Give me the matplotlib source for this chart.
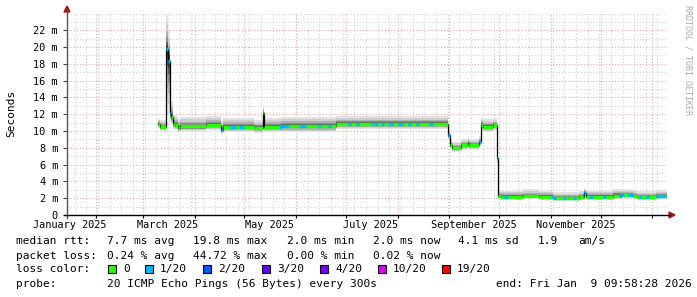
import matplotlib
matplotlib.use('Agg')
import matplotlib.pyplot as plt
import matplotlib.dates as mdates
from matplotlib.patches import Rectangle, Polygon
from matplotlib.lines import Line2D
from datetime import datetime, timedelta
import numpy as np

# ---------------- data ----------------
end_time = '2026-01-09 09:58:28'
span_days = 360

seg_start = ['2025-03-10', '2025-03-11', '2025-03-15', '2025-03-16', '2025-03-17',
             '2025-03-18', '2025-03-19', '2025-03-20', '2025-03-22', '2025-03-23',
             '2025-04-08', '2025-04-17', '2025-04-18', '2025-05-07', '2025-05-12',
             '2025-05-13', '2025-05-23', '2025-06-25', '2025-08-31 12:00', '2025-09-01 12:00',
             '2025-09-02 12:00', '2025-09-08', '2025-09-12', '2025-09-13', '2025-09-19',
             '2025-09-20', '2025-09-21', '2025-09-27', '2025-09-29 12:00', '2025-09-30 12:00',
             '2025-10-02', '2025-10-15', '2025-10-25', '2025-11-02', '2025-11-12',
             '2025-11-18', '2025-11-20', '2025-11-21', '2025-11-22', '2025-12-08',
             '2025-12-13', '2025-12-20', '2025-12-23', '2026-01-03']
seg_median = [10.85, 10.5, 19.8, 18.4, 12.1,
              11.7, 10.85, 10.7, 10.35, 10.55,
              10.75, 10.15, 10.5, 10.35, 12.1,
              10.45, 10.6, 10.85, 9.5, 8.35,
              8.0, 8.3, 8.6, 8.3, 8.7,
              10.75, 10.5, 10.7, 6.8, 2.27,
              2.2, 2.25, 2.2, 2.07, 2.0,
              2.1, 2.2, 2.66, 2.2, 2.3,
              2.39, 2.3, 2.1, 2.27]
seg_smoke_up = [0.6, 0.8, 4.1, 3.6, 3.3,
                1.9, 1.2, 1.1, 1.1, 1.1,
                1.0, 1.1, 1.1, 1.0, 0.9,
                1.1, 1.1, 0.9, 0.8, 0.7,
                0.7, 0.7, 0.6, 0.7, 0.7,
                0.8, 0.9, 0.8, 0.7, 0.6,
                0.7, 0.8, 0.7, 0.65, 0.7,
                0.7, 0.7, 0.5, 0.7, 0.8,
                0.7, 0.7, 0.7, 0.7]
seg_smoke_down = [0.5, 0.5, 7.8, 6.4, 1.0,
                  0.8, 0.6, 0.6, 0.5, 0.6,
                  0.6, 0.5, 0.6, 0.55, 1.7,
                  0.55, 0.7, 0.6, 0.6, 0.5,
                  0.5, 0.5, 0.5, 0.5, 0.5,
                  0.6, 0.6, 0.6, 0.6, 0.35,
                  0.35, 0.35, 0.35, 0.35, 0.3,
                  0.35, 0.35, 0.45, 0.35, 0.35,
                  0.35, 0.35, 0.3, 0.35]
seg_loss = [0, 0, 1, 1, 1,
            0, 0, 0, 0, 0,
            0, 1, 0, 0, 0,
            0, 0, 0, 1, 0,
            0, 0, 0, 0, 1,
            0, 0, 0, 1, 0,
            0, 0, 0, 0, 0,
            0, 0, 1, 0, 0,
            0, 0, 0, 0]
loss1_from = ['2025-04-22', '2025-04-28', '2025-05-22', '2025-06-03', '2025-06-14',
              '2025-06-20', '2025-07-02', '2025-07-07', '2025-07-16', '2025-07-18',
              '2025-07-22', '2025-07-26', '2025-08-01', '2025-08-07', '2025-08-12',
              '2025-08-20', '2025-10-04', '2025-11-01', '2025-11-08', '2025-11-14',
              '2025-11-24', '2025-12-02', '2025-12-12', '2025-12-17', '2025-12-24',
              '2025-12-28', '2026-01-03']
loss1_to = ['2025-04-26', '2025-05-01', '2025-05-28', '2025-06-07', '2025-06-16',
            '2025-06-22', '2025-07-04', '2025-07-09', '2025-07-17', '2025-07-20',
            '2025-07-24', '2025-07-29', '2025-08-04', '2025-08-09', '2025-08-14',
            '2025-08-22', '2025-10-06', '2025-11-04', '2025-11-10', '2025-11-16',
            '2025-11-26', '2025-12-04', '2025-12-15', '2025-12-20', '2025-12-26',
            '2025-12-30', '2026-01-09']

month_labels = ['January 2025', 'March 2025', 'May 2025', 'July 2025',
                'September 2025', 'November 2025']
month_label_at = ['2025-01-16', '2025-03-16', '2025-05-16', '2025-07-16',
                  '2025-09-16', '2025-11-16']
y_ticks = [0, 2, 4, 6, 8, 10, 12, 14, 16, 18, 20, 22]
y_tick_labels = ['0', '2 m', '4 m', '6 m', '8 m', '10 m', '12 m', '14 m',
                 '16 m', '18 m', '20 m', '22 m']
y_max = 24

rtt_title = 'median rtt:'
rtt_stats = ['7.7 ms avg', '19.8 ms max', '2.0 ms min', '2.0 ms now', '4.1 ms sd', '1.9', 'am/s']
loss_title = 'packet loss:'
loss_stats = ['0.24 % avg', '44.72 % max', '0.00 % min', '0.02 % now']
color_title = 'loss color:'
loss_labels = ['0', '1/20', '2/20', '3/20', '4/20', '10/20', '19/20']
loss_colors = ['#26ff00', '#00b8ff', '#0059ff', '#5e00ff', '#7e00ff', '#dd00ff', '#ff0000']
probe_title = 'probe:'
probe_text = '20 ICMP Echo Pings (56 Bytes) every 300s'
end_text = 'end: Fri Jan  9 09:58:28 2026'
y_title = 'Seconds'
watermark = 'RRDTOOL / TOBI OETIKER'

# ---------------- figure ----------------
W, H = 697, 297
plt.rcParams['font.family'] = ['DejaVu Sans Mono']
fig = plt.figure(figsize=(W / 100, H / 100), dpi=100)
fig.patch.set_facecolor('white')

def fx(x):
    return x / W

def fy(y):
    return 1 - y / H

L, R, T, B = 67, 666.5, 13.5, 215
ax = fig.add_axes([fx(L), fy(B), (R - L) / W, (B - T) / H])
ax.set_facecolor('white')
for s in ax.spines.values():
    s.set_visible(False)

t_end = datetime.fromisoformat(end_time)
t_start = t_end - timedelta(days=span_days)
x0, x1 = mdates.date2num(t_start), mdates.date2num(t_end)
ax.set_xlim(x0, x1)
ax.set_ylim(0, y_max)

# grid
minor_grid = dict(color='#cfcfcf', lw=0.8, ls=(0, (1, 1.8)), zorder=0)
major_grid = dict(color='#e8a8a8', lw=0.8, ls=(0, (1, 1.8)), zorder=0.5)
for v in range(1, y_max + 1):
    if v in y_ticks:
        ax.axhline(v, **major_grid)
    else:
        ax.axhline(v, **minor_grid)
wk = mdates.WeekdayLocator(byweekday=mdates.SU)
wk.set_axis(ax.xaxis)
for d in wk.tick_values(t_start, t_end):
    if x0 < d < x1:
        ax.axvline(d, **minor_grid)
mo = mdates.MonthLocator()
mo.set_axis(ax.xaxis)
month_ticks = [d for d in mo.tick_values(t_start, t_end) if x0 < d < x1]
for d in month_ticks:
    ax.axvline(d, **major_grid)

# data
tn = mdates.date2num([datetime.fromisoformat(s) for s in seg_start] + [t_end])
med = np.array(seg_median + [seg_median[-1]])
up = np.array(seg_smoke_up + [seg_smoke_up[-1]])
dn = np.array(seg_smoke_down + [seg_smoke_down[-1]])

shades = [(1.0, 1.0, '#e2e2e2'), (0.75, 0.8, '#cdcdcd'), (0.52, 0.6, '#b0b0b0'),
          (0.34, 0.42, '#8c8c8c'), (0.2, 0.26, '#606060'), (0.1, 0.14, '#3c3c3c')]
for fu, fd, c in shades:
    ax.fill_between(tn, med - dn * fd, med + up * fu, step='post', color=c, lw=0, zorder=2)

ax.step(tn, med, where='post', color='#000000', lw=0.9, zorder=3)
for i in range(len(seg_median)):
    ax.hlines(med[i], tn[i], tn[i + 1], color=loss_colors[seg_loss[i]], lw=2.4,
              zorder=4, capstyle='butt')
for a, b in zip(loss1_from, loss1_to):
    a = mdates.date2num(datetime.fromisoformat(a))
    b = mdates.date2num(datetime.fromisoformat(b))
    for i in range(len(seg_median)):
        lo, hi = max(a, tn[i]), min(b, tn[i + 1])
        if hi > lo:
            ax.hlines(med[i], lo, hi, color=loss_colors[1], lw=2.4, zorder=5, capstyle='butt')

# ticks
ax.set_yticks(y_ticks)
ax.set_yticklabels(y_tick_labels, fontsize=7.4)
ax.tick_params(axis='y', length=3, width=0.8, color='#444444', pad=3.5, labelcolor='black')
ax.set_xticks(month_ticks)
ax.set_xticklabels([''] * len(month_ticks))
ax.set_xticks(mdates.date2num([datetime.fromisoformat(s) for s in month_label_at]), minor=True)
ax.set_xticklabels(month_labels, minor=True, fontsize=7.4)
ax.tick_params(axis='x', which='major', length=2, width=0.8, color='black')
ax.tick_params(axis='x', which='minor', length=0, pad=3.5, labelcolor='black')

# axis lines and arrows
arrow_c = '#a01818'
fig.add_artist(Line2D([fx(L), fx(L)], [fy(B + 3), fy(10)], color='#555555', lw=1.0))
fig.add_artist(Line2D([fx(L - 3), fx(670)], [fy(B), fy(B)], color='black', lw=1.0))
fig.add_artist(Polygon([[fx(L - 3), fy(12)], [fx(L + 3), fy(12)], [fx(L), fy(6)]],
                       closed=True, color=arrow_c, transform=fig.transFigure))
fig.add_artist(Polygon([[fx(669), fy(B - 3)], [fx(669), fy(B + 3)], [fx(675), fy(B)]],
                       closed=True, color=arrow_c, transform=fig.transFigure))

# titles
fig.text(fx(11), fy(113), y_title, rotation=90, ha='center', va='center', fontsize=8)
fig.text(fx(688), fy(60), watermark, rotation=270, ha='center', va='center',
         fontsize=6, color='#aaaaaa')

# legend
fs = 8
y1, y2, y3, y4 = 241, 256, 269, 284
fig.text(fx(16), fy(y1), rtt_title, fontsize=fs, va='center')
for x, s in zip([107, 193, 287, 373, 458, 538, 578], rtt_stats):
    fig.text(fx(x), fy(y1), s, fontsize=fs, va='center')
fig.text(fx(16), fy(y2), loss_title, fontsize=fs, va='center')
for x, s in zip([107, 193, 287, 373], loss_stats):
    fig.text(fx(x), fy(y2), s, fontsize=fs, va='center')
fig.text(fx(16), fy(y3), color_title, fontsize=fs, va='center')
for x, s, c in zip([108, 145, 203, 262, 320, 378, 442], loss_labels, loss_colors):
    fig.add_artist(Rectangle((fx(x), fy(y3 + 4)), 8 / W, 8 / H, facecolor=c,
                             edgecolor='black', lw=0.8, transform=fig.transFigure))
    fig.text(fx(x + 15), fy(y3), s, fontsize=fs, va='center')
fig.text(fx(16), fy(y4), probe_title, fontsize=fs, va='center')
fig.text(fx(107), fy(y4), probe_text, fontsize=fs, va='center')
fig.text(fx(692), fy(y4), end_text, fontsize=fs, va='center', ha='right')

fig.savefig('out.png', dpi=100, facecolor='white')
